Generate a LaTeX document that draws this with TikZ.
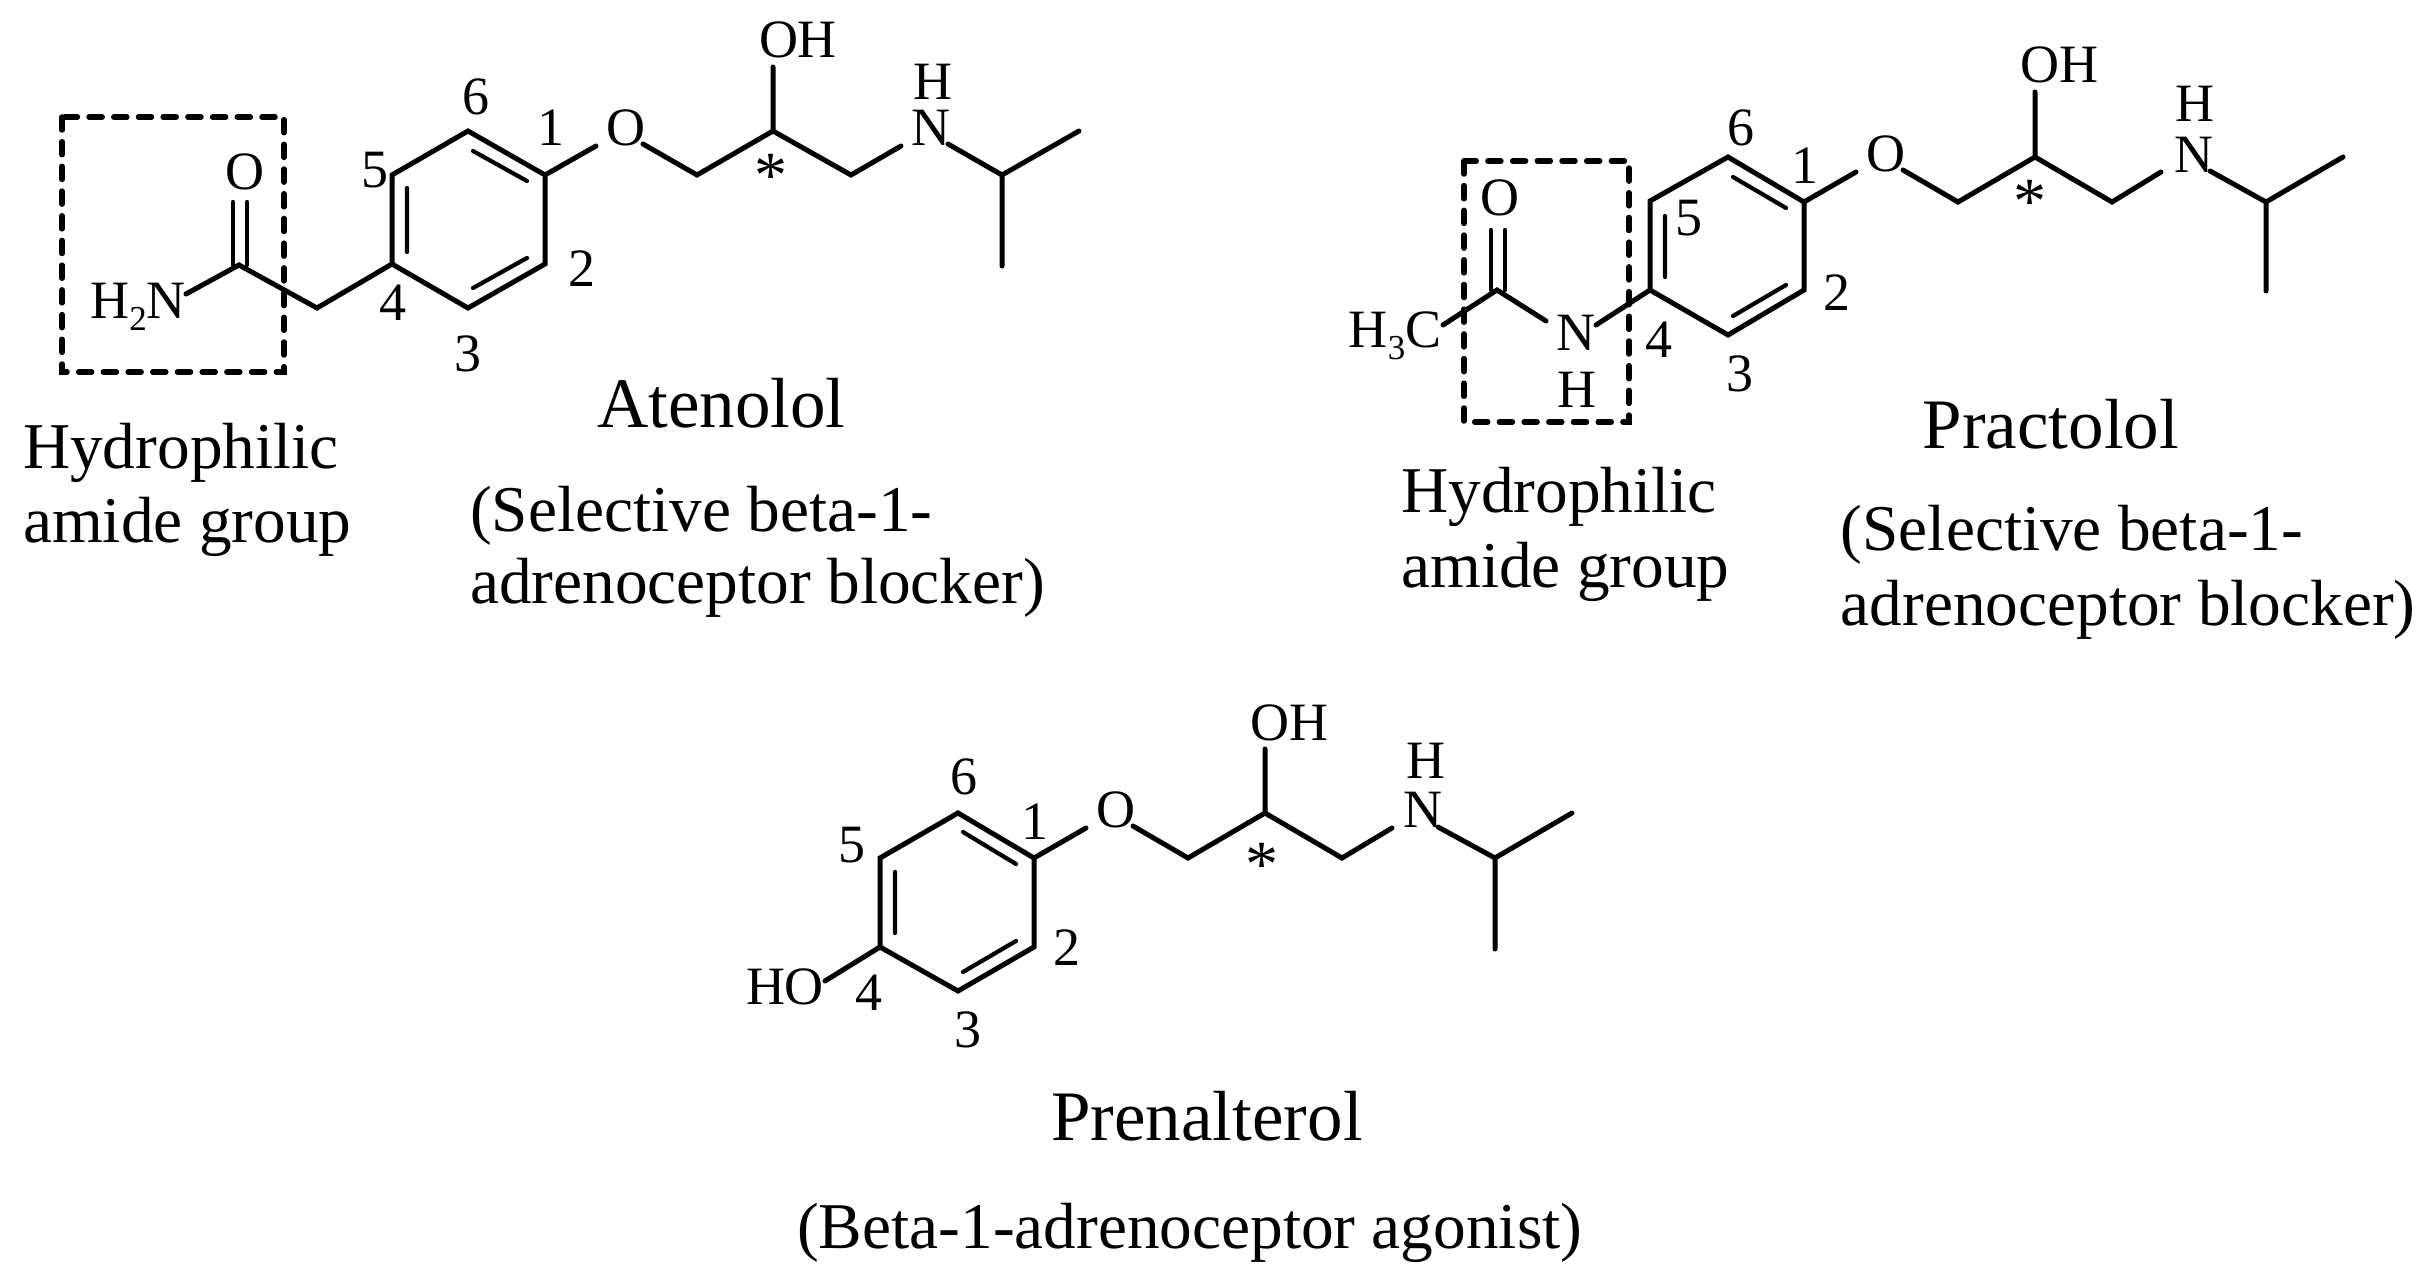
\documentclass[tikz,border=0pt]{standalone}
\usepackage{fontspec}
\setmainfont{Liberation Serif}
\newcommand{\lowsub}[1]{\raisebox{-0.22em}{\fontsize{35}{35}\selectfont #1}}
\tikzset{
  bond/.style={line width=5pt,line cap=round},
  inner bond/.style={line width=4.2pt,line cap=round},
  groupbox/.style={line width=5.5pt,line cap=round,dash pattern=on 13pt off 11.7pt},
  atom/.style={inner sep=0pt,font=\fontsize{54}{54}\selectfont},
  locant/.style={inner sep=0pt,font=\fontsize{54}{54}\selectfont},
  star/.style={inner sep=0pt,font=\fontsize{66}{66}\selectfont},
  caption/.style={inner sep=0pt,anchor=base west,font=\fontsize{65.3}{65.3}\selectfont},
  drugname/.style={inner sep=0pt,anchor=base west,font=\fontsize{71}{71}\selectfont},
}
\begin{document}
\begin{tikzpicture}[x=1pt,y=-1pt]
\useasboundingbox (0,0) rectangle (2434,1276);

%% ---------- Atenolol ----------
\coordinate (a1) at (545,175);
\coordinate (a2) at (545,264);
\coordinate (a3) at (468,308);
\coordinate (a4) at (392,264);
\coordinate (a5) at (392,175);
\coordinate (a6) at (468,131);
\coordinate (ai1) at (473,151); \coordinate (ai2) at (527,181);
\coordinate (ai3) at (407,188); \coordinate (ai4) at (407,252);
\coordinate (ai5) at (527,258); \coordinate (ai6) at (473,288);
\coordinate (aOa) at (596,146); \coordinate (aOb) at (643,144);
\coordinate (ac1) at (697,175); \coordinate (ac2) at (773,131);
\coordinate (ac3) at (851,175); \coordinate (aNa) at (901,146);
\coordinate (aNb) at (948,144); \coordinate (ac4) at (1002,175);
\coordinate (ac5) at (1079,131); \coordinate (ac6) at (1002,266);
\coordinate (aOH) at (773,67);
\coordinate (ac7) at (317,308); \coordinate (ac8) at (239,265);
\coordinate (aCOa) at (233,265); \coordinate (aCOb) at (233,202);
\coordinate (aCOc) at (247,265); \coordinate (aCOd) at (247,202);
\coordinate (aNH) at (186,294);
\draw[bond] (a1)--(a2)--(a3)--(a4)--(a5)--(a6)--cycle;
\draw[inner bond] (ai1)--(ai2) (ai3)--(ai4) (ai5)--(ai6);
\draw[bond] (a1)--(aOa) (aOb)--(ac1)--(ac2)--(ac3)--(aNa);
\draw[bond] (aNb)--(ac4)--(ac5) (ac4)--(ac6) (ac2)--(aOH);
\draw[bond] (a4)--(ac7)--(ac8)--(aNH);
\draw[inner bond] (aCOa)--(aCOb) (aCOc)--(aCOd);
\node[atom] (aO) at (626,128) {O};
\node[atom] (aN) at (931,128) {N};
\node[atom] (aH) at (933,82) {H};
\node[atom] (aOHl) at (798,40) {OH};
\node[atom] (aOc) at (245,172) {O};
\node[atom] (aH2N) at (138,307) {H\lowsub{2}N};
\node[star] (astar) at (771,176) {*};
\node[locant] (al6) at (476,97) {6};
\node[locant] (al1) at (551,128) {1};
\node[locant] (al5) at (375,170) {5};
\node[locant] (al2) at (582,269) {2};
\node[locant] (al4) at (393,303) {4};
\node[locant] (al3) at (468,354) {3};
\draw[groupbox] (62,117) rectangle (284,372);
\node[drugname] (aname) at (597,427) {Atenolol};
\node[caption] (ahyd) at (23,468) {Hydrophilic};
\node[caption] (aami) at (23,542) {amide group};
\node[caption] (asel) at (470,531) {(Selective beta-1-};
\node[caption] (aadr) at (470,603) {adrenoceptor blocker)};

%% ---------- Practolol ----------
\coordinate (p1) at (1804,202);
\coordinate (p2) at (1804,290);
\coordinate (p3) at (1728,335);
\coordinate (p4) at (1650,290);
\coordinate (p5) at (1650,201);
\coordinate (p6) at (1728,157);
\coordinate (pi1) at (1733,177); \coordinate (pi2) at (1786,208);
\coordinate (pi3) at (1665,216); \coordinate (pi4) at (1665,277);
\coordinate (pi5) at (1786,285); \coordinate (pi6) at (1733,316);
\coordinate (pOa) at (1856,172); \coordinate (pOb) at (1903,170);
\coordinate (pc1) at (1958,202); \coordinate (pc2) at (2035,157);
\coordinate (pc3) at (2112,202); \coordinate (pNa) at (2161,172);
\coordinate (pNb) at (2210,171); \coordinate (pc4) at (2266,202);
\coordinate (pc5) at (2343,157); \coordinate (pc6) at (2266,291);
\coordinate (pOH) at (2035,92);
\coordinate (pNc) at (1596,325); \coordinate (pNd) at (1546,321);
\coordinate (pc7) at (1497,290); \coordinate (pMe) at (1443,325);
\coordinate (pCOa) at (1491,290); \coordinate (pCOb) at (1491,230);
\coordinate (pCOc) at (1505,290); \coordinate (pCOd) at (1505,230);
\draw[bond] (p1)--(p2)--(p3)--(p4)--(p5)--(p6)--cycle;
\draw[inner bond] (pi1)--(pi2) (pi3)--(pi4) (pi5)--(pi6);
\draw[bond] (p1)--(pOa) (pOb)--(pc1)--(pc2)--(pc3)--(pNa);
\draw[bond] (pNb)--(pc4)--(pc5) (pc4)--(pc6) (pc2)--(pOH);
\draw[bond] (p4)--(pNc) (pNd)--(pc7)--(pMe);
\draw[inner bond] (pCOa)--(pCOb) (pCOc)--(pCOd);
\node[atom] (pO) at (1886,154) {O};
\node[atom] (pN) at (2194,155) {N};
\node[atom] (pH) at (2195,104) {H};
\node[atom] (pOHl) at (2059,65) {OH};
\node[atom] (pOc) at (1500,198) {O};
\node[atom] (pNam) at (1576,333) {N};
\node[atom] (pHam) at (1577,390) {H};
\node[atom] (pH3C) at (1395,336) {H\lowsub{3}C};
\node[star] (pstar) at (2030,202) {*};
\node[locant] (pl6) at (1741,128) {6};
\node[locant] (pl1) at (1805,166) {1};
\node[locant] (pl5) at (1689,218) {5};
\node[locant] (pl2) at (1837,293) {2};
\node[locant] (pl4) at (1659,340) {4};
\node[locant] (pl3) at (1740,374) {3};
\draw[groupbox] (1464,161) rectangle (1629,422);
\node[drugname] (pname) at (1922.5,448) {Practolol};
\node[caption] (phyd) at (1401,512) {Hydrophilic};
\node[caption] (pami) at (1401,587) {amide group};
\node[caption] (psel) at (1840.6,550) {(Selective beta-1-};
\node[caption] (padr) at (1840.6,625) {adrenoceptor blocker)};

%% ---------- Prenalterol ----------
\coordinate (r1) at (1034,858);
\coordinate (r2) at (1034,947);
\coordinate (r3) at (958,991);
\coordinate (r4) at (880,947);
\coordinate (r5) at (880,858);
\coordinate (r6) at (958,813);
\coordinate (ri1) at (963,832); \coordinate (ri2) at (1016,864);
\coordinate (ri3) at (895,872); \coordinate (ri4) at (895,933);
\coordinate (ri5) at (1016,941); \coordinate (ri6) at (963,972);
\coordinate (rOa) at (1086,828); \coordinate (rOb) at (1133,826);
\coordinate (rc1) at (1188,858); \coordinate (rc2) at (1265,813);
\coordinate (rc3) at (1342,858); \coordinate (rNa) at (1392,828);
\coordinate (rNb) at (1438,827); \coordinate (rc4) at (1495,858);
\coordinate (rc5) at (1572,813); \coordinate (rc6) at (1495,949);
\coordinate (rOH) at (1265,749); \coordinate (rHO) at (825,981);
\draw[bond] (r1)--(r2)--(r3)--(r4)--(r5)--(r6)--cycle;
\draw[inner bond] (ri1)--(ri2) (ri3)--(ri4) (ri5)--(ri6);
\draw[bond] (r1)--(rOa) (rOb)--(rc1)--(rc2)--(rc3)--(rNa);
\draw[bond] (rNb)--(rc4)--(rc5) (rc4)--(rc6) (rc2)--(rOH) (r4)--(rHO);
\node[atom] (rO) at (1116,810) {O};
\node[atom] (rN) at (1423,810) {N};
\node[atom] (rH) at (1426,761) {H};
\node[atom] (rOHl) at (1289,723) {OH};
\node[atom] (rHOl) at (785,987) {HO};
\node[star] (rstar) at (1262,865) {*};
\node[locant] (rl6) at (964,777) {6};
\node[locant] (rl1) at (1035,822) {1};
\node[locant] (rl5) at (852,845) {5};
\node[locant] (rl2) at (1067,948) {2};
\node[locant] (rl4) at (869,993) {4};
\node[locant] (rl3) at (968,1030) {3};
\node[drugname] (rname) at (1051,1140) {Prenalterol};
\node[caption] (rbeta) at (797,1248) {(Beta-1-adrenoceptor agonist)};
\end{tikzpicture}
\end{document}
